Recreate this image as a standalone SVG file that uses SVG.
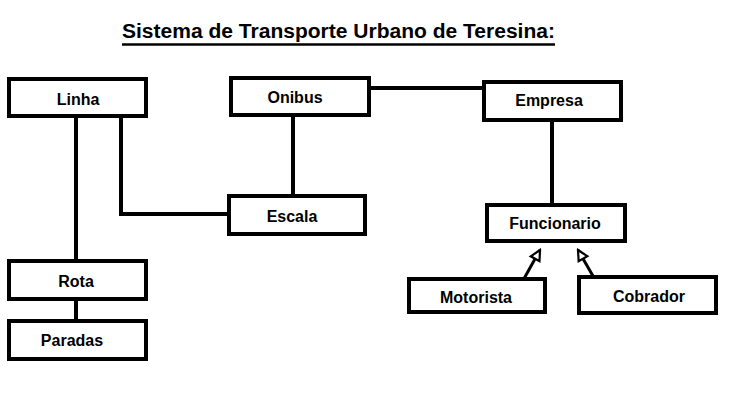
<svg xmlns="http://www.w3.org/2000/svg" width="730" height="404" viewBox="0 0 730 404">
  <style>
    .box { fill: #ffffff; stroke: #000000; stroke-width: 4; }
    .lbl { font-family: "Liberation Sans", Arial, sans-serif; font-weight: bold; font-size: 16px; fill: #000000; text-anchor: middle; }
    .title { font-family: "Liberation Sans", Arial, sans-serif; font-weight: bold; font-size: 20px; fill: #000000; }
    .conn { fill: none; stroke: #000000; stroke-width: 4; }
    .inh { fill: none; stroke: #000000; stroke-width: 3; }
  </style>
  <defs>
    <marker id="tri" viewBox="0 0 14 14" refX="12" refY="7" markerWidth="14" markerHeight="14" markerUnits="userSpaceOnUse" orient="auto">
      <path d="M2,2 L12,7 L2,12 Z" fill="#ffffff" stroke="#000000" stroke-width="2.2" stroke-linejoin="miter"/>
    </marker>
  </defs>
  <rect x="0" y="0" width="730" height="404" fill="#ffffff"/>

  <g id="title">
    <text class="title" x="122" y="38" textLength="433" lengthAdjust="spacingAndGlyphs">Sistema de Transporte Urbano de Teresina:</text>
    <line x1="122" y1="44.5" x2="555" y2="44.5" stroke="#000000" stroke-width="2.5"/>
  </g>

  <g id="connectors">
    <line class="conn" x1="76" y1="118" x2="76" y2="259"/>
    <line class="conn" x1="76" y1="301" x2="76" y2="319"/>
    <polyline class="conn" points="121,118 121,214 227,214"/>
    <line class="conn" x1="293" y1="117" x2="293" y2="194"/>
    <line class="conn" x1="371" y1="88" x2="482" y2="88"/>
    <line class="conn" x1="552" y1="122" x2="552" y2="203"/>
    <line class="inh" x1="521" y1="284" x2="540" y2="250" marker-end="url(#tri)"/>
    <line class="inh" x1="597" y1="283" x2="578" y2="250" marker-end="url(#tri)"/>
  </g>

  <g id="linha">
    <rect class="box" x="9" y="79" width="137" height="37"/>
    <text class="lbl" x="78" y="105">Linha</text>
  </g>
  <g id="onibus">
    <rect class="box" x="231" y="78" width="138" height="37"/>
    <text class="lbl" x="295" y="103">Onibus</text>
  </g>
  <g id="empresa">
    <rect class="box" x="484" y="82" width="137" height="38"/>
    <text class="lbl" x="549" y="106">Empresa</text>
  </g>
  <g id="escala">
    <rect class="box" x="229" y="196" width="136" height="38"/>
    <text class="lbl" x="292" y="222">Escala</text>
  </g>
  <g id="funcionario">
    <rect class="box" x="487" y="205" width="138" height="36"/>
    <text class="lbl" x="555" y="229">Funcionario</text>
  </g>
  <g id="rota">
    <rect class="box" x="9" y="261" width="137" height="38"/>
    <text class="lbl" x="76" y="287">Rota</text>
  </g>
  <g id="paradas">
    <rect class="box" x="9" y="321" width="137" height="38"/>
    <text class="lbl" x="72" y="346">Paradas</text>
  </g>
  <g id="motorista">
    <rect class="box" x="409" y="279" width="136" height="33"/>
    <text class="lbl" x="476" y="303">Motorista</text>
  </g>
  <g id="cobrador">
    <rect class="box" x="579" y="277" width="137" height="36"/>
    <text class="lbl" x="649" y="302">Cobrador</text>
  </g>
</svg>
